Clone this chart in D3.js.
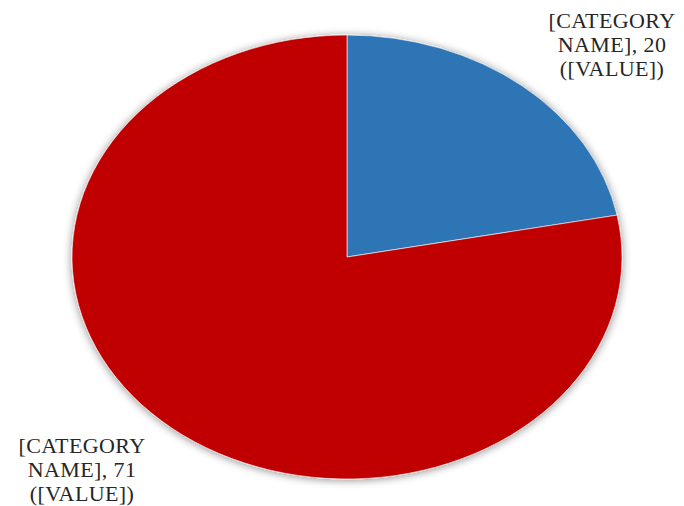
<!DOCTYPE html>
<html>
<head>
<meta charset="utf-8">
<script src="https://cdn.jsdelivr.net/npm/d3@7"></script>
<style>
  html, body { margin: 0; padding: 0; background: #ffffff; }
  svg { display: block; }
  .lbl { font-family: "Liberation Serif", "Times New Roman", Times, "DejaVu Serif", "Noto Serif", serif; }
</style>
</head>
<body>
<svg id="chart" width="684" height="506"></svg>
<script>
// Pie data
const categories = ["[CATEGORY NAME]", "[CATEGORY NAME]"];
const values = [20, 71];
const colors = ["#2E75B6", "#C00000"];
// Label lines per slice: name, value, placeholder
const labelLines = [
  ["[CATEGORY", "NAME], 20", "([VALUE])"],
  ["[CATEGORY", "NAME], 71", "([VALUE])"]
];

const W = 684, H = 506;
const cx = 347, cy = 257, rx = 275, ry = 222;

const svg = d3.select("#chart");

const defs = svg.append("defs");
const f = defs.append("filter").attr("id", "soft").attr("x", "-10%").attr("y", "-10%").attr("width", "120%").attr("height", "120%");
f.append("feGaussianBlur").attr("in", "SourceAlpha").attr("stdDeviation", 4).attr("result", "b");
f.append("feOffset").attr("in", "b").attr("dx", 0).attr("dy", 1).attr("result", "o");
f.append("feComponentTransfer").attr("in", "o").attr("result", "s")
  .append("feFuncA").attr("type", "linear").attr("slope", 0.45);
const m = f.append("feMerge");
m.append("feMergeNode").attr("in", "s");
m.append("feMergeNode").attr("in", "SourceGraphic");

const pie = d3.pie().sort(null).value(d => d)(values);
const arc = d3.arc().innerRadius(0).outerRadius(ry);

const g = svg.append("g")
  .attr("transform", `translate(${cx},${cy}) scale(${rx / ry},1)`)
  .attr("filter", "url(#soft)");

g.selectAll("path.slice")
  .data(pie)
  .join("path")
  .attr("class", "slice")
  .attr("d", arc)
  .attr("fill", (d, i) => colors[i])
  .attr("stroke", "#ffffff")
  .attr("stroke-width", 0.6)
  .attr("vector-effect", "non-scaling-stroke");

// Slice labels placed outside the ellipse (baseline of first line)
const labelPos = [[612, 28], [82, 453]];
const lineH = 24;
labelLines.forEach((lines, i) => {
  const t = svg.append("text")
    .attr("class", "lbl")
    .attr("text-anchor", "middle")
    .attr("font-size", 22)
    .attr("letter-spacing", 0.4)
    .attr("fill", "#262626");
  lines.forEach((ln, j) => {
    t.append("tspan")
      .attr("x", labelPos[i][0])
      .attr("y", labelPos[i][1] + j * lineH)
      .text(ln);
  });
});
</script>
</body>
</html>
